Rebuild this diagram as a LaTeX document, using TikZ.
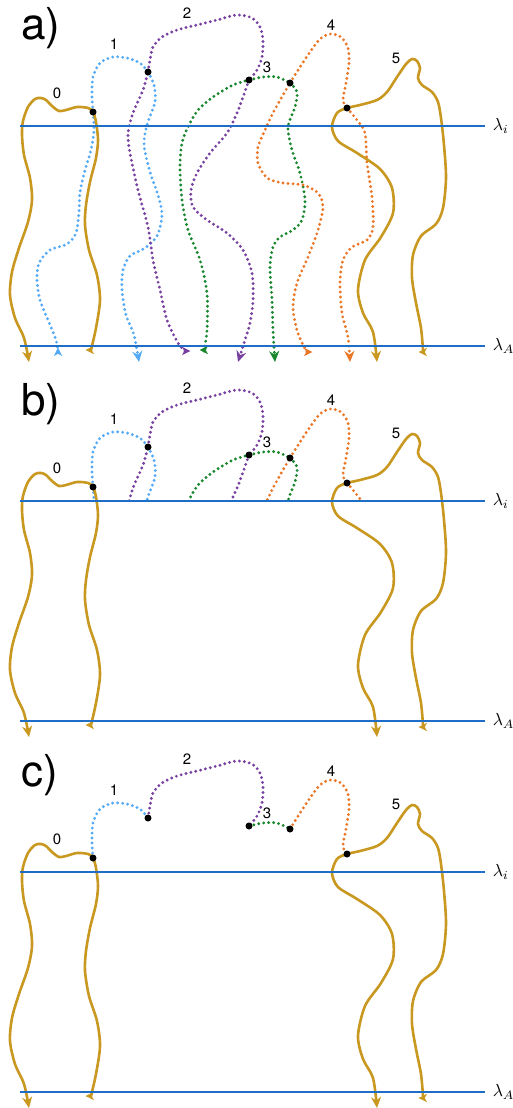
\documentclass[tikz,border=0pt]{standalone}
\usepackage{fontspec}
\setsansfont{TeX Gyre Heros}
\usepackage{tikz}
\usetikzlibrary{arrows.meta}
\definecolor{walkgold}{RGB}{200,152,32}
\definecolor{walkblue}{RGB}{85,170,245}
\definecolor{walkpurple}{RGB}{120,65,160}
\definecolor{walkgreen}{RGB}{25,135,45}
\definecolor{walkorange}{RGB}{235,118,38}
\definecolor{levelblue}{RGB}{30,110,200}

% walk paths (pixel units, y downwards)
\tikzset{
    walk0/.style={insert path={plot[smooth, tension=0.5] coordinates {(91,350) (96,328) (100,300) (97,275) (89,250) (85,225) (86,205) (90,182) (96,158) (98,140) (96,122) (93,112) (88,108) (77,107) (66,110) (59,111) (52,106) (46,100) (41,98) (35,99) (28,107) (23,121) (22,135) (24,155) (30,178) (32,200) (28,222) (19,248) (12,272) (10,295) (15,318) (24,338) (29,362)}}},
    walk1 up/.style={insert path={plot[smooth] coordinates {(58,352) (56,340) (48,320) (40,300) (37,280) (39,263) (50,250) (67,244) (76,233) (79,212) (80,192) (85,170) (91,150) (94,130) (93,112)}}},
    walk1 arc/.style={insert path={plot[smooth] coordinates {(93,112) (92,95) (93,77) (100,63) (113,57) (127,58) (140,63) (148,72)}}},
    walk1 down/.style={insert path={plot[smooth] coordinates {(148,72) (154,85) (155,102) (147,125) (144,145) (150,172) (158,195) (162,215) (157,236) (145,248) (130,256) (123,270) (122,290) (126,315) (134,335) (139,362)}}},
    walk2 up/.style={insert path={plot[smooth] coordinates {(185,351) (178,343) (167,320) (160,290) (153,260) (148,227) (138,190) (130,153) (128,133) (133,113) (143,90) (148,72)}}},
    walk2 arc/.style={insert path={plot[smooth] coordinates {(148,72) (150,60) (153,47) (162,37) (177,30) (197,25) (217,20) (237,15) (252,18) (260,27) (263,40) (262,57) (257,70) (249,80)}}},
    walk2 down/.style={insert path={plot[smooth] coordinates {(249,80) (243,97) (237,113) (227,133) (210,153) (197,173) (191,190) (193,207) (207,220) (227,233) (243,250) (252,273) (253,300) (250,323) (244,343) (238,362)}}},
    walk3 up/.style={insert path={plot[smooth] coordinates {(204,351) (207,330) (207,293) (200,260) (188,230) (182,200) (180,167) (182,143) (188,127) (198,110) (213,97) (233,85) (249,80)}}},
    walk3 arc/.style={insert path={plot[smooth] coordinates {(249,80) (263,77) (277,77) (290,83)}}},
    walk3 down/.style={insert path={plot[smooth] coordinates {(290,83) (297,92) (295,107) (288,127) (292,150) (300,173) (305,200) (302,220) (293,230) (280,237) (273,247) (270,267) (272,300) (273,330) (275,362)}}},
    walk4 up/.style={insert path={plot[smooth] coordinates {(307,352) (303,345) (297,330) (293,307) (297,283) (308,257) (318,230) (323,207) (318,193) (303,185) (283,183) (267,178) (258,163) (258,147) (265,130) (273,113) (283,95) (290,83)}}},
    walk4 arc/.style={insert path={plot[smooth] coordinates {(290,83) (300,67) (310,52) (320,39) (330,34) (341,37) (348,48) (349,63) (346,83) (343,100) (347,108)}}},
    walk4 down/.style={insert path={plot[smooth] coordinates {(347,108) (357,120) (365,133) (367,163) (372,197) (373,227) (367,240) (352,247) (343,260) (340,283) (342,313) (348,337) (350,362)}}},
    walk5/.style={insert path={plot[smooth, tension=0.5] coordinates {(423,350) (421,328) (416,303) (412,278) (413,255) (421,236) (436,224) (443,208) (446,178) (444,145) (441,118) (438,102) (432,92) (422,85) (418,78) (420,68) (417,61) (412,59) (406,64) (397,77) (387,92) (377,100) (360,105) (347,108) (337,113) (332,127) (338,141) (357,153) (380,169) (392,188) (393,213) (381,237) (365,260) (358,290) (363,313) (373,332) (377,362)}}}
}

% small arrow head at the start of a walk: colour, x, y, direction
\newcommand{\starttip}[4]{\fill[#1, shift={(#2,#3)}, rotate=#4] (4.5,0) -- (-4,4.2) -- (-1.8,0) -- (-4,-4.2) -- cycle;}

\begin{document}
\begin{tikzpicture}[x=1pt, y=-1pt, >={Stealth[length=11pt, width=10pt]},
    goldline/.style={draw=walkgold, line width=2.6pt},
    dotline/.style={line width=3.2pt, line cap=round, dash pattern=on 0pt off 5pt},
    levelline/.style={draw=levelblue, line width=2.2pt},
    levellabel/.style={right, scale=1.75, text=black},
    junction/.style={circle, fill=black, inner sep=0pt, minimum size=7pt},
    walklabel/.style={font=\sffamily\fontsize{15}{15}\selectfont},
    panellabel/.style={font=\sffamily\fontsize{44}{44}\selectfont, anchor=base west, inner sep=0pt}]
    \useasboundingbox (0,0) rectangle (513,1108);

    % Panel a: whole walks
    \draw[dotline, draw=walkblue] [walk1 up];
    \draw[dotline, draw=walkblue] [walk1 arc];
    \draw[dotline, draw=walkblue, ->] [walk1 down];
    \draw[dotline, draw=walkpurple] [walk2 up];
    \draw[dotline, draw=walkpurple] [walk2 arc];
    \draw[dotline, draw=walkpurple, ->] [walk2 down];
    \draw[dotline, draw=walkgreen] [walk3 up];
    \draw[dotline, draw=walkgreen] [walk3 arc];
    \draw[dotline, draw=walkgreen, ->] [walk3 down];
    \draw[dotline, draw=walkorange] [walk4 up];
    \draw[dotline, draw=walkorange] [walk4 arc];
    \draw[dotline, draw=walkorange, ->] [walk4 down];
    \starttip{walkblue}{58}{352}{90}
    \starttip{walkpurple}{186}{351}{0}
    \starttip{walkgreen}{204}{350}{180}
    \starttip{walkorange}{308}{352}{0}

    % Panel b: walks cut at lambda_i
    \begin{scope}[shift={(0,375)}]
        \clip (0,0) rectangle (513,126);
        \foreach \w/\c in {1/walkblue, 2/walkpurple, 3/walkgreen, 4/walkorange} {
            \draw[dotline, draw=\c] [walk\w\space up];
            \draw[dotline, draw=\c] [walk\w\space arc];
            \draw[dotline, draw=\c] [walk\w\space down];
        }
    \end{scope}

    % Panel c: only the arcs between junctions
    \begin{scope}[shift={(0,746)}]
        \draw[dotline, draw=walkblue] [walk1 arc];
        \draw[dotline, draw=walkpurple] [walk2 arc];
        \draw[dotline, draw=walkgreen] [walk3 arc];
        \draw[dotline, draw=walkorange] [walk4 arc];
    \end{scope}

    % Common parts of the three panels
    \foreach \dy/\tag in {0/a, 375/b, 746/c} {
        \begin{scope}[shift={(0,\dy)}]
            % solid walks 0 and 5
            \draw[goldline, ->] [walk0];
            \draw[goldline, ->] [walk5];
            \starttip{walkgold}{90}{350}{180}
            \starttip{walkgold}{423}{352}{180}
            % levels
            \draw[levelline] (20,126) -- (485,126) node[levellabel] (li-\tag) {$\lambda_i$};
            \draw[levelline] (20,346) -- (485,346) node[levellabel] (lA-\tag) {$\lambda_A$};
            % junctions
            \node[junction] (j1-\tag) at (93,112) {};
            \node[junction] (j2-\tag) at (148,72) {};
            \node[junction] (j3-\tag) at (249,80) {};
            \node[junction] (j4-\tag) at (290,83) {};
            \node[junction] (j5-\tag) at (347,108) {};
            % walk numbers
            \node[walklabel] (n0-\tag) at (57,93) {0};
            \node[walklabel] (n1-\tag) at (114,44) {1};
            \node[walklabel] (n2-\tag) at (187,13) {2};
            \node[walklabel] (n3-\tag) at (267,67) {3};
            \node[walklabel] (n4-\tag) at (331,25) {4};
            \node[walklabel] (n5-\tag) at (396,58) {5};
            \node[panellabel] (p-\tag) at (21,40) {\tag)};
        \end{scope}
    }
\end{tikzpicture}
\end{document}
